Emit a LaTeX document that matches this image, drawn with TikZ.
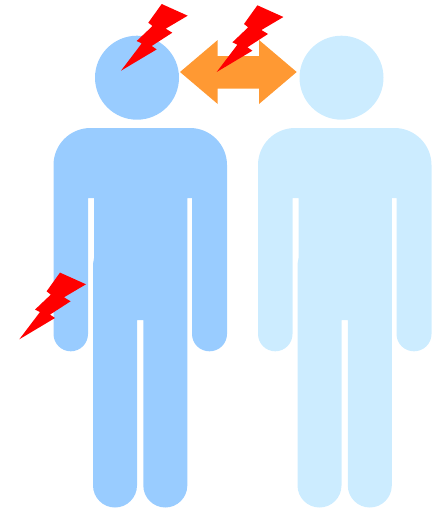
\documentclass[tikz,border=0pt]{standalone}
\newcommand{\personshape}[1]{%
  \begin{scope}[shift={(#1,0)}]
    \fill[bodyfill] (137,77.7) circle[radius=42pt];
    \fill[bodyfill] (53.5,334) .. controls (53.5,343.5) and (61.2,351.3) .. (70.75,351.3)
      .. controls (80.3,351.3) and (88,343.5) .. (88,334) -- (88,198) -- (94,198) -- (94,258) -- (93,264)
      -- (93,485.5) .. controls (93,497.6) and (102.9,507.5) .. (115,507.5)
      .. controls (127.1,507.5) and (137,497.6) .. (137,485.5) -- (137,320) -- (143.3,320)
      -- (143.3,485.5) .. controls (143.3,497.6) and (153.2,507.5) .. (165.3,507.5)
      .. controls (177.4,507.5) and (187.3,497.6) .. (187.3,485.5) -- (187.3,198) -- (192,198)
      -- (192,334) .. controls (192,343.5) and (199.7,351.3) .. (209.5,351.3)
      .. controls (219.3,351.3) and (227,343.5) .. (227,334) -- (227,165)
      .. controls (227,144.6) and (210.4,128) .. (190,128) -- (90.5,128)
      .. controls (70,128) and (53.5,144.6) .. (53.5,165) -- cycle;
  \end{scope}}
\newcommand{\boltshape}[2]{%
  \fill[boltfill,shift={(#1,#2)}] (0,0) -- (20.7,-27.3) -- (15.7,-29.7) -- (31.5,-44.7) -- (27.3,-48)
    -- (40.7,-66.7) -- (66.7,-55) -- (44.7,-42) -- (51.3,-38) -- (30.7,-24.7) -- (35.7,-21.3) -- cycle;}
\tikzset{boltfill/.style={fill=red}}
\definecolor{bluea}{HTML}{99CCFF}
\definecolor{blueb}{HTML}{CCECFF}
\definecolor{orangea}{HTML}{FF9933}
\begin{document}
\begin{tikzpicture}[x=1pt,y=-1pt]
  \useasboundingbox (0,0) rectangle (441,509);
  \tikzset{bodyfill/.style={fill=bluea}}
  \personshape{0}
  \tikzset{bodyfill/.style={fill=blueb}}
  \personshape{204.5}
  \fill[orangea] (180,72) -- (217.7,40) -- (217.7,56) -- (259,56) -- (259,40) -- (296.7,72)
    -- (259,104) -- (259,88.5) -- (217.7,88.5) -- (217.7,104) -- cycle;
  \boltshape{121}{70.7}
  \boltshape{216.7}{72}
  \boltshape{19.3}{339.3}
\end{tikzpicture}
\end{document}
